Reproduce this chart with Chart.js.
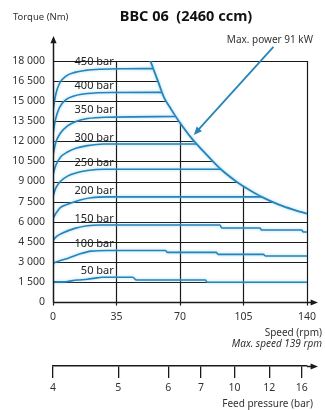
<!DOCTYPE html>
<html>
<head>
<meta charset="utf-8">
<script src="https://cdn.jsdelivr.net/npm/chart.js@4.4.1/dist/chart.umd.min.js"></script>
<style>
  body { margin: 0; background: #fff; }
  #wrap { width: 325px; height: 410px; }
</style>
</head>
<body>
<div id="wrap"><canvas id="myChart" width="325" height="410"></canvas></div>
<script>
// axis ticks
const speedTicks = [0, 35, 70, 105, 140];
const speedTickLabels = ['0', '35', '70', '105', '140'];
const torqueTicks = [0, 1500, 3000, 4500, 6000, 7500, 9000, 10500, 12000, 13500, 15000, 16500, 18000];
const torqueTickLabels = ['0', '1 500', '3 000', '4 500', '6 000', '7 500', '9 000', '10 500', '12 000', '13 500', '15 000', '16 500', '18 000'];
// feed pressure scale, given as the speed it lines up with
const feedLabels = ['4', '5', '6', '7', '10', '12', '16'];
const feedSpeed = [0, 36, 63.5, 81.6, 100, 119.2, 137.1];

// torque curves [speed rpm, torque Nm]
const pressureLabels = ['50 bar', '100 bar', '150 bar', '200 bar', '250 bar', '300 bar', '350 bar', '400 bar', '450 bar'];
const curve50 = [[0,1500],[6,1500],[10,1580],[13.6,1640],[19,1700],[23,1780],[27,1845],[44,1845],[46,1640],[84,1640],[85,1480],[140,1480]];
const curve100 = [[0,2900],[3,3050],[8,3250],[15,3600],[21,3800],[30,3850],[62,3850],[63,3710],[90,3710],[91,3560],[116,3560],[117,3440],[140,3440]];
const curve150 = [[0,4600],[2,4900],[5,5130],[12,5500],[19,5700],[26,5750],[92,5750],[93,5530],[114,5530],[115,5380],[137,5380],[138,5230],[140,5230]];
const curve200 = [[0,6250],[2,6700],[4,7050],[8,7300],[15,7620],[21,7790],[30,7850],[115,7850]];
const curve250 = [[0,7900],[1.5,8500],[4,9000],[8,9400],[13,9650],[19,9820],[28,9920],[92.6,9920]];
const curve300 = [[0,9500],[1.5,10200],[4,10800],[8,11200],[13,11500],[19,11680],[28,11800],[79.3,11800]];
const curve350 = [[0,11000],[1.5,11900],[4,12600],[8,13150],[13,13500],[19,13700],[29,13800],[67.7,13850]];
const curve400 = [[0,12600],[1.5,13700],[3.5,14500],[7,15100],[12,15400],[19,15570],[32,15650],[60.2,15660]];
const curve450 = [[0,14300],[1.5,15500],[3.5,16300],[7,16850],[12,17150],[18,17300],[26,17380],[40,17420],[55.3,17430]];
const curves = [curve50, curve100, curve150, curve200, curve250, curve300, curve350, curve400, curve450];

// max power line (91 kW)
const maxPowerSpeed = [53.7, 55.9, 58.1, 61.3, 65.1, 68.9, 76, 83.6, 92.2, 101.5, 108.5, 115, 124.8, 132.4, 140];
const maxPowerTorque = [18000, 17200, 16400, 15250, 14400, 13600, 12300, 11150, 9950, 8950, 8350, 7850, 7250, 6900, 6600];

const BLUE = '#2784b8';
const INK = '#1a1a1a';
const FONT = '"Noto Sans", sans-serif';

const datasets = curves.map(c => ({
  data: c.map(p => ({ x: p[0], y: p[1] })),
  borderColor: BLUE,
  borderWidth: 1.6,
  pointRadius: 0,
  cubicInterpolationMode: 'monotone',
  fill: false
}));
datasets.push({
  data: maxPowerSpeed.map((s, i) => ({ x: s, y: maxPowerTorque[i] })),
  borderColor: BLUE,
  borderWidth: 1.8,
  pointRadius: 0,
  tension: 0.3,
  fill: false
});

function arrowHead(ctx, x1, y1, x2, y2, size) {
  const ang = Math.atan2(y2 - y1, x2 - x1);
  ctx.beginPath();
  ctx.moveTo(x2, y2);
  ctx.lineTo(x2 - size * Math.cos(ang - 0.4), y2 - size * Math.sin(ang - 0.4));
  ctx.lineTo(x2 - size * Math.cos(ang + 0.4), y2 - size * Math.sin(ang + 0.4));
  ctx.closePath();
  ctx.fill();
}

const overlay = {
  id: 'overlay',
  beforeDatasetsDraw(chart) {
    const { ctx, chartArea: a, scales: { x, y } } = chart;
    ctx.save();
    // grid only below the max power line
    ctx.beginPath();
    ctx.moveTo(a.left, a.bottom);
    ctx.lineTo(a.left, a.top);
    maxPowerSpeed.forEach((s, i) => ctx.lineTo(x.getPixelForValue(s), y.getPixelForValue(maxPowerTorque[i])));
    ctx.lineTo(a.right, a.bottom);
    ctx.closePath();
    ctx.clip();
    ctx.strokeStyle = INK;
    ctx.lineWidth = 1.2;
    torqueTicks.slice(1, -1).forEach(t => {
      const py = Math.round(y.getPixelForValue(t)) + 0.5;
      ctx.beginPath(); ctx.moveTo(a.left, py); ctx.lineTo(a.right, py); ctx.stroke();
    });
    speedTicks.slice(1, -1).forEach(s => {
      const px = Math.round(x.getPixelForValue(s)) + 0.5;
      ctx.beginPath(); ctx.moveTo(px, a.bottom); ctx.lineTo(px, a.top); ctx.stroke();
    });
    ctx.restore();

    // top and right frame
    ctx.save();
    ctx.strokeStyle = INK;
    ctx.lineWidth = 1.2;
    const top = Math.round(a.top) + 0.5, right = Math.round(a.right) + 0.5;
    ctx.beginPath();
    ctx.moveTo(a.left, top); ctx.lineTo(right, top); ctx.lineTo(right, a.bottom);
    ctx.stroke();
    ctx.restore();
  },
  beforeDatasetDraw(chart) {
    const ctx = chart.ctx;
    ctx.save();
    ctx.shadowColor = 'rgba(120,200,240,0.75)';
    ctx.shadowBlur = 3;
  },
  afterDatasetDraw(chart) {
    chart.ctx.restore();
  },
  afterDatasetsDraw(chart) {
    const { ctx, chartArea: a, scales: { x, y, x2 } } = chart;
    ctx.save();

    // axes with arrows
    ctx.strokeStyle = INK;
    ctx.fillStyle = INK;
    ctx.lineWidth = 1.5;
    const left = Math.round(a.left) + 0.5;
    const bottom = Math.round(a.bottom) + 0.5;
    ctx.beginPath(); ctx.moveTo(left, bottom); ctx.lineTo(left, a.top - 20); ctx.stroke();
    arrowHead(ctx, left, a.top, left, a.top - 25, 8);
    ctx.beginPath(); ctx.moveTo(left, bottom); ctx.lineTo(a.right + 6, bottom); ctx.stroke();
    arrowHead(ctx, a.left, bottom, a.right + 11, bottom, 8);
    // small ticks under speed axis
    ctx.lineWidth = 1.2;
    speedTicks.forEach(s => {
      const px = Math.round(x.getPixelForValue(s)) + 0.5;
      ctx.beginPath(); ctx.moveTo(px, bottom); ctx.lineTo(px, bottom + 3); ctx.stroke();
    });
    // feed pressure axis extension
    const fy = Math.round(x2.top) + 0.5;
    ctx.lineWidth = 1.5;
    ctx.beginPath(); ctx.moveTo(a.right, fy); ctx.lineTo(a.right + 6, fy); ctx.stroke();
    arrowHead(ctx, a.left, fy, a.right + 11, fy, 8);

    // max power pointer
    ctx.strokeStyle = BLUE;
    ctx.fillStyle = BLUE;
    ctx.lineWidth = 1.8;
    const ax1 = x.getPixelForValue(121.5), ay1 = y.getPixelForValue(19050);
    const ax2 = x.getPixelForValue(77.6), ay2 = y.getPixelForValue(12475);
    ctx.beginPath(); ctx.moveTo(ax1, ay1); ctx.lineTo(ax2 + 4, ay2 - 4.5); ctx.stroke();
    arrowHead(ctx, ax1, ay1, ax2, ay2, 9);

    // pressure labels above each plateau
    ctx.fillStyle = '#222';
    ctx.font = '11px ' + FONT;
    ctx.textAlign = 'right';
    ctx.textBaseline = 'bottom';
    curves.forEach((c, i) => {
      const top = Math.max(...c.map(p => p[1]));
      ctx.fillText(pressureLabels[i], x.getPixelForValue(33.5), y.getPixelForValue(top) - 1);
    });

    // titles and captions
    ctx.fillStyle = '#111';
    ctx.textBaseline = 'middle';
    ctx.textAlign = 'center';
    ctx.font = 'bold 14.5px ' + FONT;
    ctx.fillText('BBC 06  (2460 ccm)', 186, 17);
    ctx.fillStyle = '#333';
    ctx.font = '9.5px ' + FONT;
    ctx.textAlign = 'left';
    ctx.fillText('Torque (Nm)', 13, 17);
    ctx.textAlign = 'right';
    ctx.font = '10px ' + FONT;
    ctx.fillText('Max. power 91 kW', 313, 40);
    ctx.fillText('Speed (rpm)', 322, 333);
    ctx.font = 'italic 10px ' + FONT;
    ctx.fillText('Max. speed 139 rpm', 322, 344);
    ctx.font = '10px ' + FONT;
    ctx.fillText('Feed pressure (bar)', 313, 404);
    ctx.restore();
  }
};

const tickFont = { family: FONT, size: 10.5 };

new Chart(document.getElementById('myChart'), {
  type: 'line',
  data: { datasets },
  options: {
    responsive: false,
    animation: false,
    events: [],
    layout: { padding: { top: 61, right: 14, bottom: 14, left: 0 } },
    plugins: { legend: { display: false }, tooltip: { enabled: false } },
    scales: {
      x: {
        type: 'linear', position: 'bottom', min: 0, max: 140,
        afterBuildTicks: s => { s.ticks = speedTicks.map(v => ({ value: v })); },
        afterFit: s => { s.height = 64; },
        grid: { display: false, drawTicks: false },
        border: { display: false },
        ticks: {
          color: '#333', font: tickFont, padding: 9, maxRotation: 0,
          callback: (v) => speedTickLabels[speedTicks.indexOf(v)]
        }
      },
      x2: {
        type: 'linear', position: 'bottom', min: 0, max: 140,
        afterBuildTicks: s => { s.ticks = feedSpeed.map(v => ({ value: v })); },
        afterFit: s => { s.height = 30; },
        grid: { drawOnChartArea: false, drawTicks: true, tickLength: 12, color: INK, lineWidth: 1.3 },
        border: { display: true, color: INK, width: 1.5 },
        ticks: {
          color: '#333', font: tickFont, padding: 4, maxRotation: 0, autoSkip: false,
          callback: (v) => feedLabels[feedSpeed.indexOf(v)]
        }
      },
      y: {
        type: 'linear', min: 0, max: 18000,
        afterBuildTicks: s => { s.ticks = torqueTicks.map(v => ({ value: v })); },
        afterFit: s => { s.width = 53; },
        grid: { display: false, drawTicks: false },
        border: { display: false },
        ticks: {
          color: '#333', font: tickFont, padding: 8, autoSkip: false,
          callback: (v) => torqueTickLabels[torqueTicks.indexOf(v)]
        }
      }
    }
  },
  plugins: [overlay]
});
</script>
</body>
</html>
